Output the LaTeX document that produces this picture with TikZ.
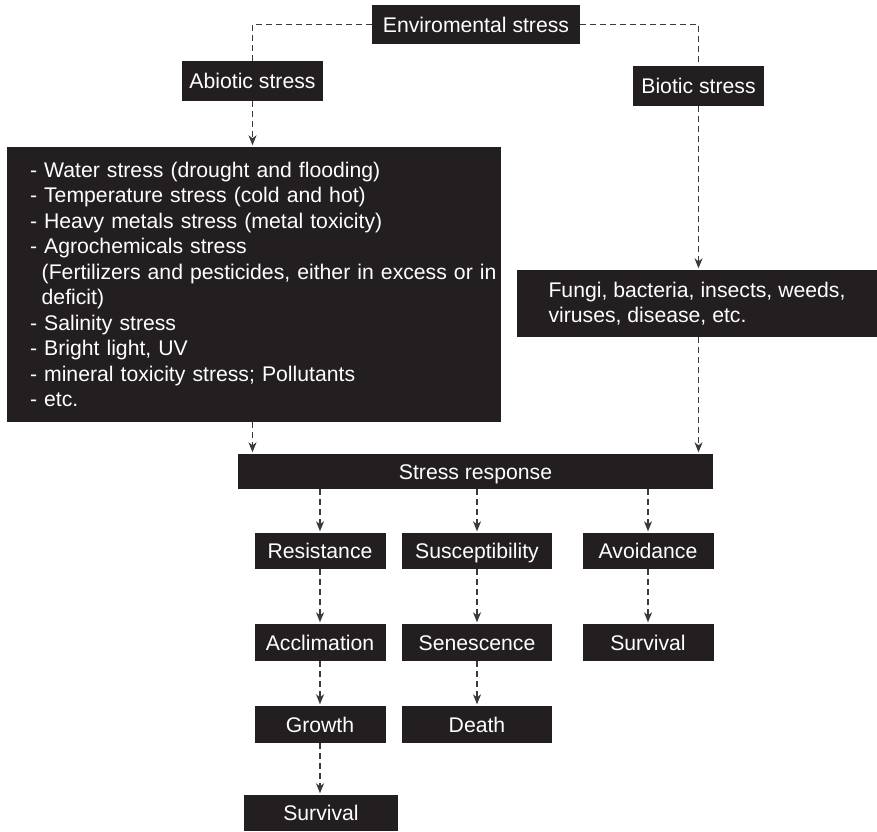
\documentclass[tikz,border=0pt]{standalone}
\usepackage{fontspec}
\setmainfont{Liberation Sans}
\usetikzlibrary{arrows.meta}
\definecolor{boxfill}{HTML}{231F20}
\definecolor{linecol}{HTML}{3A3A3A}
\begin{document}
\begin{tikzpicture}[x=1pt,y=-1pt,
  box/.style={fill=boxfill, text=white, inner sep=0pt, anchor=center,
    font=\fontsize{21.2}{25.5}\selectfont},
  oneline/.style={box, text height=15.2pt, text depth=0pt},
  link/.style={draw=linecol, line width=1.2pt, dash pattern=on 6pt off 4pt},
  arr/.style={link, -{Stealth[length=10pt,width=8pt,inset=3pt]}, shorten >=1.5pt}]
\useasboundingbox (0,0) rectangle (877,831);

\node[oneline, minimum width=208pt, minimum height=39pt] (env) at (476,24.5) {Enviromental stress};
\node[oneline, minimum width=141pt, minimum height=40pt] (abio) at (252.5,81) {Abiotic stress};
\node[oneline, minimum width=131pt, minimum height=40pt] (bio) at (698.5,86) {Biotic stress};

\node[box, minimum width=494pt, minimum height=275pt, text width=448pt, align=left] (abiolist) at (254,284.5)
 {- Water stress (drought and flooding)\\
  - Temperature stress (cold and hot)\\
  - Heavy metals stress (metal toxicity)\\
  - Agrochemicals stress\\
  \mbox{\hspace*{11.7pt}(Fertilizers and pesticides, either in excess or in}\\
  \hspace*{11.7pt}deficit)\\
  - Salinity stress\\
  - Bright light, UV\\
  - mineral toxicity stress; Pollutants\\
  - etc.};

\node[box, minimum width=360pt, minimum height=67pt, align=left] (biolist) at (697,303.5)
 {Fungi, bacteria, insects, weeds,\\viruses, disease, etc.};

\node[oneline, minimum width=475pt, minimum height=35pt] (resp) at (475.5,471.5) {Stress response};

\node[oneline, minimum width=131pt, minimum height=36pt] (resist) at (320,551) {Resistance};
\node[oneline, minimum width=150pt, minimum height=36pt] (suscept) at (477,551) {Susceptibility};
\node[oneline, minimum width=131pt, minimum height=36pt] (avoid) at (648,551) {Avoidance};

\node[oneline, minimum width=131pt, minimum height=37pt] (acclim) at (320,642.5) {Acclimation};
\node[oneline, minimum width=150pt, minimum height=37pt] (senes) at (477,642.5) {Senescence};
\node[oneline, minimum width=131pt, minimum height=37pt] (survB) at (648,642.5) {Survival};

\node[oneline, minimum width=131pt, minimum height=37pt] (growth) at (320,724.5) {Growth};
\node[oneline, minimum width=150pt, minimum height=37pt] (death) at (477,724.5) {Death};

\node[oneline, minimum width=154pt, minimum height=36pt] (survA) at (321,813) {Survival};

\draw[link] (env.west) -| (abio.north);
\draw[link] (env.east) -| (bio.north);
\draw[arr] (abio.south) -- (abio.south |- abiolist.north);
\draw[arr] (bio.south) -- (bio.south |- biolist.north);
\draw[arr] (abiolist.south -| abio.south) -- (resp.north -| abio.south);
\draw[arr] (biolist.south -| bio.south) -- (resp.north -| bio.south);

\draw[arr] (resp.south -| resist.north) -- (resist.north);
\draw[arr] (resp.south -| suscept.north) -- (suscept.north);
\draw[arr] (resp.south -| avoid.north) -- (avoid.north);

\draw[arr] (resist.south) -- (acclim.north);
\draw[arr] (suscept.south) -- (senes.north);
\draw[arr] (avoid.south) -- (survB.north);

\draw[arr] (acclim.south) -- (growth.north);
\draw[arr] (senes.south) -- (death.north);
\draw[arr] (growth.south) -- (survA.north -| growth.south);
\end{tikzpicture}
\end{document}
